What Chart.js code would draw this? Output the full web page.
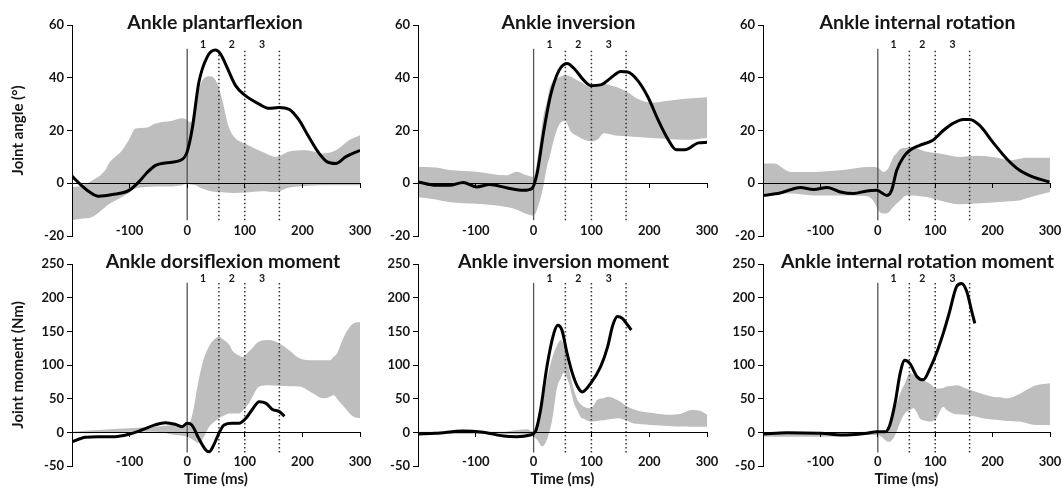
<!DOCTYPE html>
<html>
<head>
<meta charset="utf-8">
<title>Ankle kinematics and kinetics</title>
<script src="https://cdn.jsdelivr.net/npm/chart.js@4.4.1/dist/chart.umd.min.js"></script>
<style>
  html, body { margin: 0; padding: 0; background: #fff; }
  #wrap { position: relative; width: 1063px; height: 491px; overflow: hidden; }
  #wrap canvas { position: absolute; }
</style>
</head>
<body>
<div id="wrap"></div>
<script>
'use strict';

// ***** DATA *****

// event markers (ms): touchdown and the ends of phases 1, 2, 3
const eventTimes = [0, 55, 100, 160];
const phaseNames = ['1', '2', '3'];

const timeTicks = [-200, -100, 0, 100, 200, 300];
const angleTicks = [-20, 0, 20, 40, 60];
const momentTicks = [-50, 0, 50, 100, 150, 200, 250];

// black curves: [time, value]
const plantarflexionLine = [[-200, 2.7], [-185, -0.5], [-170, -3.2], [-154, -4.9], [-130, -4.3], [-101, -2.7], [-84, 0.5], [-70, 4], [-55, 6.8], [-38, 7.7], [-9, 9], [0, 12], [9, 21], [20, 38], [35, 48], [49, 50.5], [58, 49], [67, 45], [84, 37], [100, 33.4], [125, 30], [142, 28.4], [159, 28.7], [177, 28], [194, 24], [211, 17.6], [229, 11.3], [243, 8.1], [258, 7.5], [275, 10], [300, 12.5]];
const inversionLine = [[-200, 0.5], [-169, -0.8], [-145, -0.8], [-122, 0.3], [-99, -1.4], [-76, -0.5], [-47, -1.7], [-17, -2.7], [-3, -2], [6, 3.7], [17, 19], [29, 33], [44, 42.8], [58, 45.4], [70, 43.5], [87, 39], [99, 37], [116, 37.3], [134, 40], [151, 42.4], [163, 42.2], [180, 39], [198, 32.6], [215, 24.2], [233, 16.5], [247, 12.7], [262, 12.7], [285, 15.3], [300, 15.5]];
const rotationLine = [[-200, -4.6], [-170, -3.7], [-135, -1.6], [-112, -2.4], [-88, -1.6], [-65, -3.3], [-42, -3.9], [-19, -2.9], [-2, -2.7], [16, -4.6], [24, -2.7], [33, 4.9], [45, 10], [56, 12.5], [73, 14.4], [96, 16.3], [114, 20], [131, 22.7], [149, 24.2], [160, 24.2], [177, 22], [200, 15.7], [224, 9.4], [247, 4.9], [270, 2.4], [299, 0.5]];
const dorsiMomentLine = [[-200, -14], [-177, -7.4], [-154, -6.4], [-125, -6.4], [-102, -3], [-79, 3.5], [-56, 11], [-38, 14.4], [-21, 12], [-9, 8.4], [0, 13.4], [8, 11], [20, -9], [32, -26], [38, -29], [46, -19], [55, -1.5], [64, 11], [78, 13.4], [90, 13.4], [102, 21], [113, 34], [125, 45.5], [137, 43], [148, 34], [160, 30.7], [169, 24]];
const inversionMomentLine = [[-200, -2.5], [-169, -1.5], [-122, 2], [-87, 0], [-52, -5.4], [-29, -6.4], [-6, -4], [3, 1], [12, 33], [23, 97.5], [35, 147], [42, 159], [49, 152], [58, 117], [67, 88], [76, 68], [84, 60], [99, 73], [116, 97.5], [128, 127], [137, 159], [145, 172], [154, 169], [163, 159], [169, 152]];
const rotationMomentLine = [[-200, -2.5], [-158, -0.5], [-100, -1.5], [-54, -4], [-19, -1.5], [-2, 1], [13, 1], [21, 11], [30, 43], [39, 88], [47, 107], [56, 102], [68, 83], [79, 78], [91, 95], [102, 117], [114, 147], [125, 179], [137, 216], [146, 221], [155, 209], [163, 182], [169, 162]];

// grey ranges: [time, low, high]
const plantarflexionBand = [[-200, -14, -1.5], [-185, -13.5, -1], [-165, -12.8, 1], [-142, -9, 5], [-136, -8, 7.5], [-113, -5.2, 12.5], [-100, -3.5, 17], [-90, -2, 20.8], [-72, -1.4, 21], [-55, -1.2, 22.7], [-26, -1.2, 23.7], [-9, -0.8, 24.6], [0, 0, 24], [6, -0.5, 23], [14, -0.8, 30], [26, -2, 39], [41, -3, 40.6], [52, -3.3, 38], [61, -3.4, 31.5], [72, -3.6, 21.4], [84, -3.7, 17], [101, -3.5, 15], [130, -3, 11.9], [154, -3.3, 10], [177, -1.6, 12], [206, -1, 12.5], [235, -0.8, 11.3], [258, -0.8, 12.5], [281, -0.8, 16.3], [300, -0.8, 18.2]];
const inversionBand = [[-200, -5.3, 6.3], [-169, -6.2, 6], [-145, -7.2, 5], [-99, -7.8, 4.4], [-47, -9, 3], [-29, -10, 4.4], [-12, -11.7, 3], [0, -12.3, 2.4], [9, -8, 12.7], [17, -1, 25.5], [23, 6.3, 31], [29, 11, 37], [35, 16.5, 39], [47, 23, 40.5], [55, 23.6, 41], [64, 19.7, 40.5], [76, 17.8, 39], [81, 17.2, 38.5], [99, 15.9, 36.4], [110, 16.5, 37], [122, 19, 37.7], [134, 18.5, 37], [145, 18, 36.4], [163, 17.8, 34.5], [180, 17.5, 32], [203, 17.2, 30.6], [233, 16.8, 31.3], [262, 16.5, 32], [300, 17.2, 32.6]];
const rotationBand = [[-200, -3.9, 7.5], [-181, -3.9, 7.5], [-152, -3.9, 4.3], [-112, -4.6, 4.3], [-65, -4.6, 4.9], [-19, -4.9, 6.2], [-8, -6.5, 6.2], [1, -10.3, 5.8], [10, -11.5, 4.3], [18, -11.2, 5.6], [27, -9, 10], [33, -7.7, 11.5], [39, -6.5, 13], [50, -4.6, 13.5], [56, -4.6, 13.8], [85, -5.2, 11.9], [108, -6.5, 11.3], [143, -8, 10], [172, -7.7, 10.4], [200, -7.3, 10], [212, -7.1, 9.5], [229, -6.8, 8.7], [247, -6.5, 9.3], [258, -5.8, 9.7], [276, -4.6, 9.7], [300, -3.3, 9.7]];
const dorsiMomentBand = [[-200, -1.5, 1], [-154, -1, 3.5], [-102, 1, 6], [-56, 1, 8.4], [-21, -4, 11], [0, -6.4, 11], [8, -10, 23], [20, -16, 78], [29, -6.4, 110], [38, 8.4, 128], [46, 15, 137], [55, 21, 142], [64, 25, 137], [73, 28, 130], [78, 28, 122], [90, 28, 114], [96, 32, 112], [107, 43, 120], [125, 68, 135], [142, 70, 137], [160, 69, 132], [177, 68.5, 122], [195, 68, 110], [218, 58, 107], [236, 50.5, 107], [248, 53, 107], [254, 55.5, 112], [260, 50, 117], [272, 38, 142], [289, 23, 162], [300, 21, 164]];
const inversionMomentBand = [[-200, -2.5, 1], [-122, -2.5, 1], [-52, -2.5, 1], [-29, -3, 3.5], [-12, -4, 4.5], [0, -6.4, 1], [6, -11, 10], [15, -21, 40], [23, -11, 78], [32, 18, 110], [41, 68, 130], [47, 80, 137], [52, 88, 130], [61, 73, 95], [70, 43, 62], [76, 32, 48], [81, 23, 42], [87, 20, 38], [99, 16, 35.6], [110, 17, 48], [122, 18, 51], [128, 19, 53], [145, 21, 48], [163, 17, 38], [174, 13, 34], [186, 12, 31], [203, 11, 29], [233, 9.5, 26], [256, 8.5, 28], [273, 8.4, 33], [291, 8.4, 31], [300, 8.4, 26]];
const rotationMomentBand = [[-200, -6.4, 0], [-158, -6.4, 1], [-100, -6.4, 0], [-54, -5.5, 0], [-19, -4, 1], [0, -4, 1], [10, -9, 2], [18, -14, 5], [27, -9, 28], [36, 8.4, 50], [39, 15, 58], [47, 28, 72], [56, 33, 88], [62, 35.6, 86], [68, 30, 83], [73, 21, 80], [85, 17, 75], [91, 16, 72], [102, 21, 65], [114, 38, 66], [120, 33, 68], [131, 28, 69], [137, 27, 70], [154, 26, 65], [172, 23, 60], [183, 21, 57], [200, 19, 53], [212, 18, 52], [224, 17, 50.5], [247, 16, 57], [253, 15, 60], [276, 11, 70], [300, 11, 73]];


// ***** LAYOUT *****

const columns = [
    { left: 0, width: 372, axisWidth: 72, padRight: 12 },
    { left: 378, width: 341, axisWidth: 40, padRight: 12 },
    { left: 723, width: 340, axisWidth: 40, padRight: 13 }
];

const rows = [
    { top: 0, height: 245, padTop: 25, axisHeight: 9, tickPad: -3, markSpan: [-14, 51], ticks: angleTicks, yTitle: 'Joint angle (°)', xTitle: false },
    { top: 245, height: 246, padTop: 19, axisHeight: 25, tickPad: -4, markSpan: [-30, 222], ticks: momentTicks, yTitle: 'Joint moment (Nm)', xTitle: true }
];

const panels = [
    { title: 'Ankle plantarflexion', line: plantarflexionLine, band: plantarflexionBand, row: 0, col: 0, shift: -1 },
    { title: 'Ankle inversion', line: inversionLine, band: inversionBand, row: 0, col: 1, shift: 6 },
    { title: 'Ankle internal rotation', line: rotationLine, band: rotationBand, row: 0, col: 2, shift: 11 },
    { title: 'Ankle dorsiflexion moment', line: dorsiMomentLine, band: dorsiMomentBand, row: 1, col: 0, shift: 7 },
    { title: 'Ankle inversion moment', line: inversionMomentLine, band: inversionMomentBand, row: 1, col: 1, shift: 1 },
    { title: 'Ankle internal rotation moment', line: rotationMomentLine, band: rotationMomentBand, row: 1, col: 2, shift: 11 }
];

const textColor = '#161616';
const fontStack = 'Lato, "Open Sans", sans-serif';

Chart.defaults.font.family = fontStack;
Chart.defaults.font.weight = 'bold';
Chart.defaults.color = textColor;


// ***** PLUGIN: panel title and phase numbers *****

const panelText = {
    id: 'panelText',
    afterDatasetsDraw(chart, args, opts) {
        const { ctx, chartArea, scales } = chart;
        ctx.save();
        ctx.fillStyle = textColor;
        ctx.textAlign = 'center';
        ctx.textBaseline = 'alphabetic';
        ctx.font = 'bold 19.5px ' + fontStack;
        ctx.fillText(opts.title, (chartArea.left + chartArea.right) / 2 + opts.shift, chartArea.top + 4);

        ctx.font = 'bold 10.5px ' + fontStack;
        ctx.textBaseline = 'middle';
        let labelY = scales.y.getPixelForValue(opts.markTop) - 4;
        for (let i = 0; i < phaseNames.length; i++) {
            let mid = (eventTimes[i] + eventTimes[i + 1]) / 2;
            ctx.fillText(phaseNames[i], scales.x.getPixelForValue(mid), labelY);
        }
        ctx.restore();
    }
};


// ***** HELPERS *****

function toPoints(list, idx) {
    return list.map(p => ({ x: p[0], y: p[idx] }));
}

function buildDatasets(panel, row) {
    let sets = [];

    sets.push({
        data: toPoints(panel.line, 1),
        borderColor: '#000',
        borderWidth: 3,
        cubicInterpolationMode: 'monotone',
        order: 0
    });

    for (let i = 0; i < eventTimes.length; i++) {
        let t = eventTimes[i];
        sets.push({
            data: [{ x: t, y: row.markSpan[0] }, { x: t, y: row.markSpan[1] }],
            borderColor: i === 0 ? '#555' : '#333',
            borderWidth: i === 0 ? 1.3 : 1.5,
            borderDash: i === 0 ? [] : [1.5, 2.5],
            order: 1
        });
    }

    // low edge, then high edge filled down to it
    sets.push({
        data: toPoints(panel.band, 1),
        borderWidth: 0,
        borderColor: 'rgba(0,0,0,0)',
        cubicInterpolationMode: 'monotone',
        fill: false,
        order: 2
    });
    sets.push({
        data: toPoints(panel.band, 2),
        borderWidth: 0,
        borderColor: 'rgba(0,0,0,0)',
        backgroundColor: '#bebebe',
        cubicInterpolationMode: 'monotone',
        fill: '-1',
        order: 2
    });

    sets.forEach(s => { s.xAxisID = 'x'; s.yAxisID = 'y'; s.pointRadius = 0; });
    return sets;
}

function renderPanel(panel) {
    let row = rows[panel.row];
    let col = columns[panel.col];
    let yTicks = row.ticks;
    let tMin = timeTicks[0];
    let tMax = timeTicks[timeTicks.length - 1];

    let canvas = document.createElement('canvas');
    canvas.width = col.width;
    canvas.height = row.height;
    canvas.style.left = col.left + 'px';
    canvas.style.top = row.top + 'px';
    document.getElementById('wrap').appendChild(canvas);

    new Chart(canvas, {
        type: 'line',
        data: { datasets: buildDatasets(panel, row) },
        plugins: [panelText],
        options: {
            responsive: false,
            animation: false,
            devicePixelRatio: 1,
            layout: { padding: { top: row.padTop, right: col.padRight, left: 0, bottom: 0 } },
            plugins: {
                legend: { display: false },
                tooltip: { enabled: false },
                panelText: { title: panel.title, shift: panel.shift, markTop: row.markSpan[1] }
            },
            scales: {
                x: {
                    type: 'linear',
                    position: 'bottom',
                    min: tMin,
                    max: tMax,
                    grid: { display: false, drawTicks: false },
                    border: { display: false },
                    ticks: {
                        stepSize: timeTicks[1] - timeTicks[0],
                        // labels sit just above the bottom edge of the plot
                        mirror: true,
                        padding: row.tickPad,
                        maxRotation: 0,
                        autoSkip: false,
                        font: { size: 13, weight: 'bold' },
                        callback: v => (v === tMin ? '' : v)
                    },
                    title: {
                        display: row.xTitle,
                        text: 'Time (ms)',
                        font: { size: 15, weight: 'bold' },
                        padding: { top: 0, bottom: 3 }
                    },
                    afterFit: s => { s.height = row.axisHeight; s.paddingLeft = 0; s.paddingRight = 0; }
                },
                xZero: {
                    type: 'linear',
                    axis: 'x',
                    position: { y: 0 },
                    min: tMin,
                    max: tMax,
                    ticks: { display: false, stepSize: timeTicks[1] - timeTicks[0] },
                    grid: { drawOnChartArea: false, drawTicks: true, tickLength: 4, color: '#000', z: 1 },
                    border: { display: true, color: '#000', width: 1, z: 1 },
                    afterFit: s => { s.paddingLeft = 0; s.paddingRight = 0; }
                },
                y: {
                    type: 'linear',
                    position: 'left',
                    min: yTicks[0],
                    max: yTicks[yTicks.length - 1],
                    ticks: {
                        stepSize: yTicks[1] - yTicks[0],
                        padding: 3,
                        font: { size: 13, weight: 'bold' }
                    },
                    grid: { drawOnChartArea: false, drawTicks: true, tickLength: 5, color: '#000' },
                    border: { display: true, color: '#000', width: 1, z: 1 },
                    title: {
                        display: panel.col === 0,
                        text: row.yTitle,
                        font: { size: 15, weight: 'bold' },
                        padding: { top: 9, bottom: 0 }
                    },
                    afterFit: s => { s.width = col.axisWidth; s.paddingTop = 0; s.paddingBottom = 0; }
                }
            }
        }
    });
}


// ***** EXECUTABLE CODE *****

panels.forEach(renderPanel);
</script>
</body>
</html>
